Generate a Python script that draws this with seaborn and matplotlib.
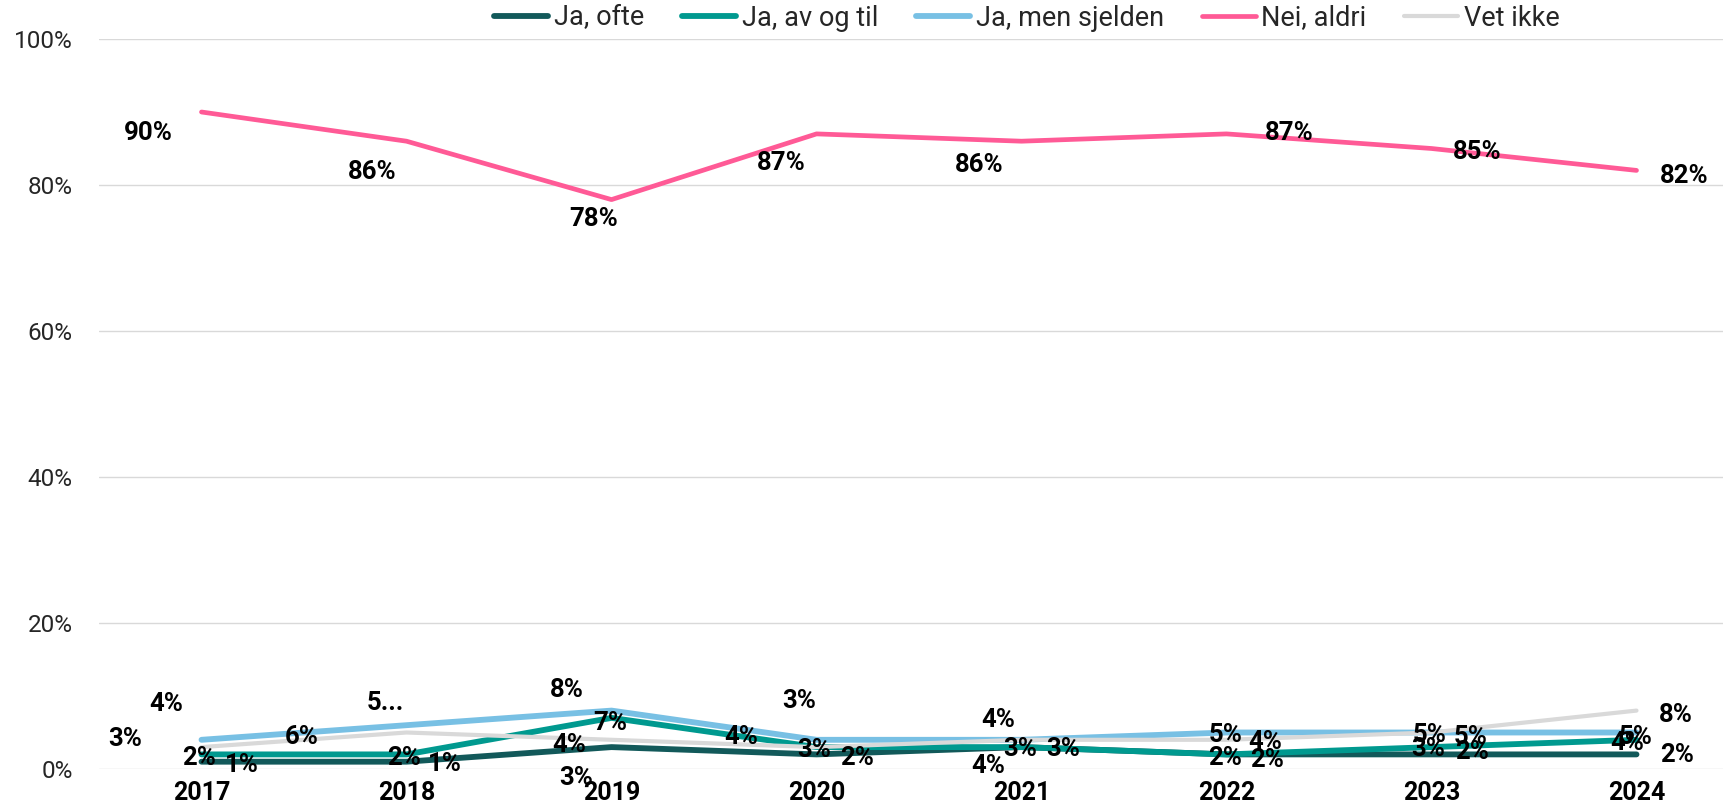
import matplotlib
matplotlib.use("Agg")
import matplotlib.pyplot as plt
import pandas as pd
import seaborn as sns

# ---------------------------------------------------------------------
# data
# ---------------------------------------------------------------------
years = ["2017", "2018", "2019", "2020", "2021", "2022", "2023", "2024"]
series_names = ["Ja, ofte", "Ja, av og til", "Ja, men sjelden", "Nei, aldri", "Vet ikke"]

ja_ofte = [1, 1, 3, 2, 3, 2, 2, 2]
ja_av_og_til = [2, 2, 7, 3, 3, 2, 3, 4]
ja_sjelden = [4, 6, 8, 4, 4, 5, 5, 5]
nei_aldri = [90, 86, 78, 87, 86, 87, 85, 82]
vet_ikke = [3, 5, 4, 3, 4, 4, 5, 8]

y_ticks = [0, 20, 40, 60, 80, 100]

# one label in the original is cut short
label_override = {("Vet ikke", 1): "5..."}

# ---------------------------------------------------------------------
# style
# ---------------------------------------------------------------------
colors = {
    "Ja, ofte": "#12595A",
    "Ja, av og til": "#00998F",
    "Ja, men sjelden": "#78C0E4",
    "Nei, aldri": "#FF5A96",
    "Vet ikke": "#D9D9D9",
}
widths = {
    "Ja, ofte": 4.2,
    "Ja, av og til": 4.2,
    "Ja, men sjelden": 4.2,
    "Nei, aldri": 3.4,
    "Vet ikke": 3.0,
}

# label offsets in pixels (dx, dy) from each point, as placed in the original
label_offsets = {
    "Nei, aldri": [(-53, -21), (-34, -31), (-18, -19), (-35, -29), (-42, -24), (63, 1), (46, -4), (48, -6)],
    "Ja, men sjelden": [(-35, 36), (-105, -12), (-45, 21), (-75, 3), (-23, 20), (-1, -2), (-2, -2), (-1, -4)],
    "Vet ikke": [(-76, 8), (-21, 30), (-42, -5), (-17, 46), (-33, -26), (39, -2), (39, -4), (39, -4)],
    "Ja, av og til": [(-2, -4), (-2, -4), (-1, -5), (-2, -3), (-1, -2), (-1, -4), (-3, -2), (-9, -3)],
    "Ja, ofte": [(40, -3), (38, -2), (-35, -31), (41, -4), (42, -2), (41, -6), (41, 2), (41, -1)],
}

sns.set_theme(style="white")
plt.rcParams["font.family"] = ["Roboto", "DejaVu Sans"]

values = {
    "Ja, ofte": ja_ofte,
    "Ja, av og til": ja_av_og_til,
    "Ja, men sjelden": ja_sjelden,
    "Nei, aldri": nei_aldri,
    "Vet ikke": vet_ikke,
}
rows = []
for name in series_names:
    for i, v in enumerate(values[name]):
        rows.append({"series": name, "pos": i, "year": years[i], "value": v})
df = pd.DataFrame(rows)

fig = plt.figure(figsize=(17.24, 8.11), dpi=100)
ax = fig.add_axes([99 / 1724, 42 / 811, 1640 / 1724, 730 / 811])

for k, name in enumerate(series_names):
    sub = df[df["series"] == name]
    sns.lineplot(data=sub, x="pos", y="value", ax=ax, color=colors[name],
                 linewidth=widths[name], label=name, zorder=3 + k,
                 solid_capstyle="round", solid_joinstyle="round")

# data labels
for name in series_names:
    for i, v in enumerate(values[name]):
        txt = label_override.get((name, i), f"{v}%")
        dx, dy = label_offsets[name][i]
        ax.annotate(txt, (i, v), xytext=(dx, dy), textcoords="offset pixels",
                    ha="center", va="center", fontsize=18.5, fontweight="bold",
                    color="black", zorder=10)

ax.set_xlim(-0.5, len(years) - 0.5)
ax.set_ylim(0, 100)
ax.set_xticks(range(len(years)))
ax.set_xticklabels(years, fontsize=18, fontweight="bold", color="black")
ax.set_yticks(y_ticks)
ax.set_yticklabels([f"{t}%" for t in y_ticks], fontsize=17.5, color="#262626")
ax.tick_params(axis="x", length=0, pad=9)
ax.tick_params(axis="y", length=0, pad=19)
ax.set_xlabel("")
ax.set_ylabel("")
ax.grid(axis="y", color="#D9D9D9", linewidth=1.0)
ax.set_axisbelow(True)
for s in ax.spines.values():
    s.set_visible(False)

ax.legend(loc="center", bbox_to_anchor=(1027 / 1724, 1 - 18 / 811),
          bbox_transform=fig.transFigure, ncol=5, frameon=False,
          fontsize=19.5, handlelength=2.0, handletextpad=0.2,
          columnspacing=1.4, borderpad=0, borderaxespad=0)

fig.savefig("out.png", dpi=100)
